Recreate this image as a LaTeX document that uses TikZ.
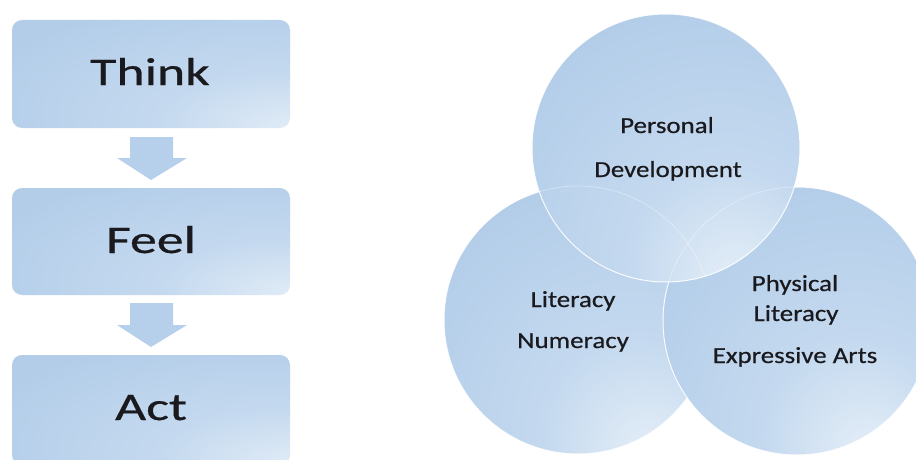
\documentclass[tikz,border=0pt]{standalone}
\usepackage{fontspec}
\setmainfont{Carlito}
\newfontfamily\labelfont[FakeBold=0.5]{Carlito}
\definecolor{bluedark}{HTML}{B3CDE9}
\definecolor{bluemid}{HTML}{C4D9EF}
\definecolor{bluelight}{HTML}{E6EFF8}
\definecolor{arrowblue}{HTML}{B6CFEA}
\definecolor{inktext}{HTML}{1A1A1E}
% soft highlight towards the lower right of each shape
\pgfdeclareradialshading{boxshade}{\pgfpoint{30bp}{-28bp}}{color(0bp)=(bluelight); color(22bp)=(bluemid); color(48bp)=(bluedark); color(100bp)=(bluedark)}
\pgfdeclareradialshading{ballshade}{\pgfpoint{14bp}{-26bp}}{color(0bp)=(bluelight); color(18bp)=(bluemid); color(42bp)=(bluedark); color(100bp)=(bluedark)}
\tikzset{
  stagebox/.style={shade, shading=boxshade, rounded corners=10pt, inner sep=0pt,
    minimum width=278pt},
  stagearrow/.style={fill=arrowblue},
  ball/.style={circle, shade, shading=ballshade, draw=white,
    draw opacity=0.9, line width=1pt, minimum size=268pt, inner sep=0pt},
  ghostrim/.style={draw=white, draw opacity=0.35, line width=0.8pt},
  bigword/.style={text=inktext, inner sep=0pt, anchor=base,
    font=\labelfont\fontsize{39}{42}\selectfont},
  ballword/.style={text=inktext, inner sep=0pt, anchor=base,
    font=\labelfont\fontsize{23}{26}\selectfont},
}
\newcommand{\wideA}[1]{\scalebox{1.38}[1]{#1}}
\newcommand{\wideB}[1]{\scalebox{1.17}[1]{#1}}
\begin{document}
\begin{tikzpicture}[x=1pt, y=-1pt]
  \useasboundingbox (0,0) rectangle (916,460);
  \clip (0,0) rectangle (916,460);
  \fill[white] (0,0) rectangle (916,460);

  % three stages
  \node[stagebox, minimum height=108pt] (think) at (151,74) {};
  \node[stagebox, minimum height=107pt] (feel) at (151,241.5) {};
  \node[stagebox, minimum height=110pt] (act) at (151,410) {};

  \fill[stagearrow] (130,137) -- (173,137) -- (173,158) -- (187,158)
    -- (151,180) -- (117,158) -- (130,158) -- cycle;
  \fill[stagearrow] (130,303) -- (173,303) -- (173,325) -- (187,325)
    -- (151,347) -- (117,325) -- (130,325) -- cycle;

  \node[bigword] (thinktxt) at (150,85) {\wideA{Think}};
  \node[bigword] (feeltxt) at (151,253) {\wideA{Feel}};
  \node[bigword] (acttxt) at (151,420) {\wideA{Act}};

  % overlapping areas of learning
  \node[ball] (lit) at (578,320) {};
  \node[ball] (phys) at (797,321) {};
  \node[ball] (pers) at (666,148) {};
  % faint rims of the lower circles showing through the top one
  \begin{scope}
    \clip (pers.center) circle (134pt);
    \draw[ghostrim] (lit.center) circle (134pt);
    \draw[ghostrim] (phys.center) circle (134pt);
  \end{scope}

  \node[ballword] (p1) at (667,133) {\wideB{Personal}};
  \node[ballword] (p2) at (668,177) {\wideB{Development}};
  \node[ballword] (l1) at (573,307) {\wideB{Literacy}};
  \node[ballword] (l2) at (573,348) {\wideB{Numeracy}};
  \node[ballword] (r1) at (795,291) {\wideB{Physical}};
  \node[ballword] (r2) at (796,321) {\wideB{Literacy}};
  \node[ballword] (r3) at (795,363) {\wideB{Expressive Arts}};
\end{tikzpicture}
\end{document}
